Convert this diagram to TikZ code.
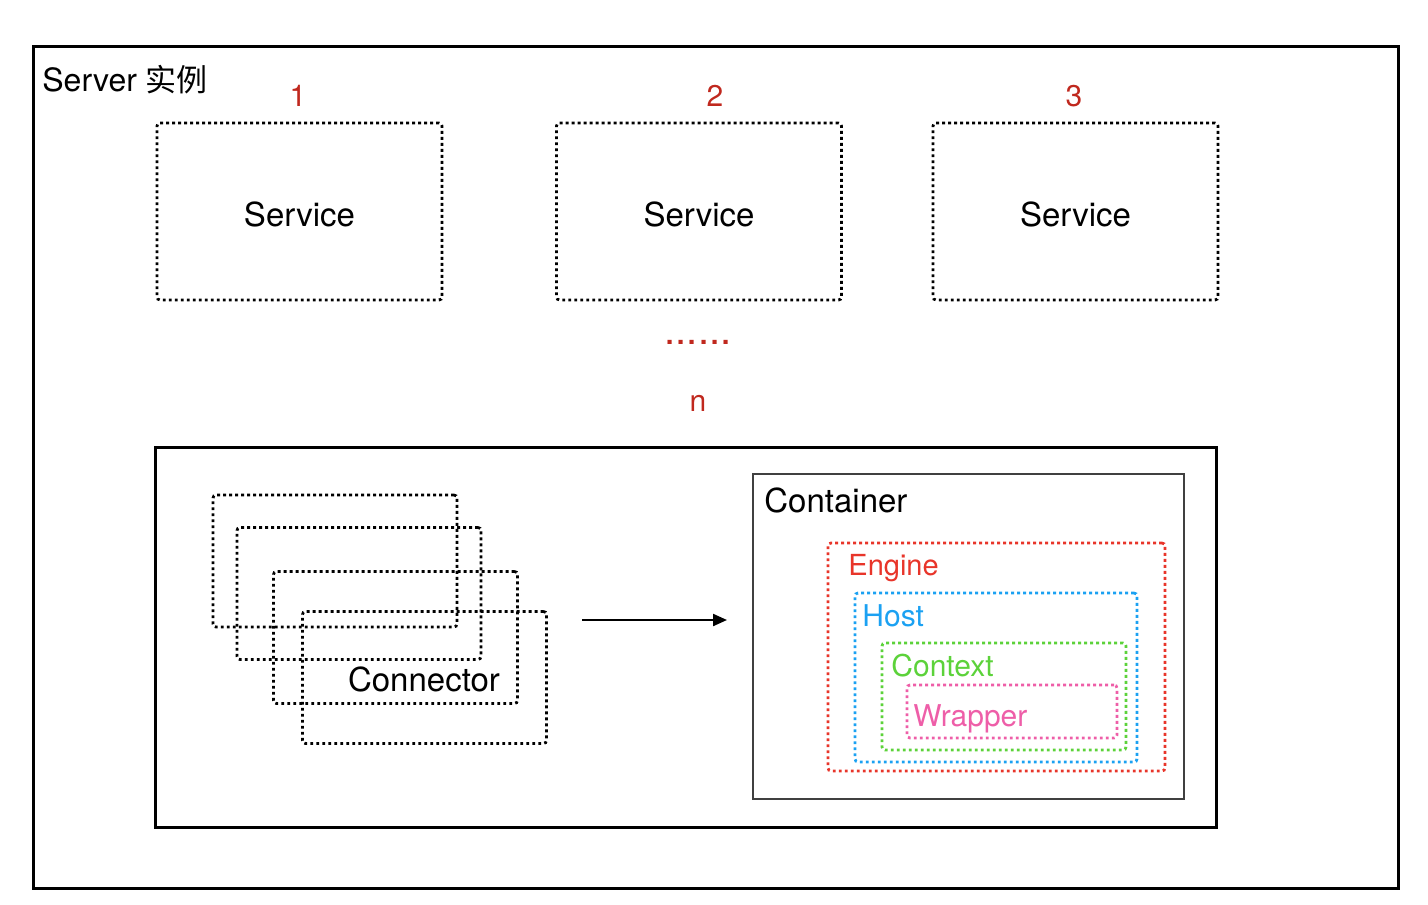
\documentclass[tikz,border=0pt]{standalone}
\usepackage{fontspec}
\setmainfont{TeX Gyre Heros}
\newfontfamily\cjk{Noto Sans CJK SC}
\usetikzlibrary{arrows.meta}
\definecolor{numred}{HTML}{C0281E}
\definecolor{enginered}{HTML}{E8352A}
\definecolor{hostblue}{HTML}{1BA1F2}
\definecolor{contextgreen}{HTML}{5CD23A}
\definecolor{wrapperpink}{HTML}{EE5EA8}
\begin{document}
\begin{tikzpicture}[x=0.5pt,y=-0.5pt,
  dotbox/.style={draw,line width=1.4pt,dash pattern=on 1.4pt off 1.6pt,rounded corners=1.5pt,inner sep=0pt},
  bigbox/.style={draw,line width=1.5pt,inner sep=0pt},
  txt/.style={font=\fontsize{16.5}{19}\selectfont,inner sep=0pt},
  subtxt/.style={font=\fontsize{15}{18}\selectfont,inner sep=0pt,anchor=west}]
  \useasboundingbox (0,0) rectangle (1428,904);
  % server
  \node[bigbox,minimum width=682.5pt,minimum height=420.5pt] (server) at (715.5,467.5) {};
  \node[txt,anchor=west,font=\fontsize{16}{19}\selectfont] (servername) at (42,80) {Server {\cjk\fontsize{15.5}{19}\selectfont 实例}};
  % services
  \foreach \i/\x/\nx in {1/299.5/298,2/699/715,3/1075.5/1074} {
    \node[dotbox,minimum width=142.5pt,minimum height=88.5pt] (service\i) at (\x,211.5) {};
    \node[txt] (servicename\i) at (\x,214) {Service};
    \node[txt,numred,font=\fontsize{15}{18}\selectfont] (num\i) at (\nx,96) {\i};
  }
  \node[numred,inner sep=0pt,anchor=base,font=\fontsize{20}{24}\selectfont] (dots) at (698,344) {......};
  \node[txt,numred,font=\fontsize{15}{18}\selectfont] (numn) at (698,403) {n};
  % service body
  \node[bigbox,minimum width=530.5pt,minimum height=190pt] (body) at (685.5,637) {};
  % connectors
  \node[dotbox,minimum width=122pt,minimum height=66pt] (conn1) at (335,561) {};
  \node[dotbox,minimum width=122pt,minimum height=66pt] (conn2) at (359,593.5) {};
  \node[dotbox,minimum width=122pt,minimum height=66pt] (conn3) at (395.5,637.5) {};
  \node[dotbox,minimum width=122pt,minimum height=66pt] (conn4) at (424.5,677.5) {};
  \node[txt] (connname) at (424,679) {Connector};
  \coordinate (arrowtail) at (582,620);
  \coordinate (arrowtip) at (727,620);
  \draw[line width=1.1pt,-{Triangle[length=7pt,width=6pt]}] (arrowtail) -- (arrowtip);
  % container
  \node[draw=black!75,line width=0.8pt,inner sep=0pt,minimum width=215.5pt,minimum height=162.5pt] (container) at (968.5,636.5) {};
  \node[txt,anchor=west] (containername) at (764,500) {Container};
  \node[dotbox,enginered,minimum width=168.5pt,minimum height=114pt] (engine) at (996.5,657) {};
  \node[subtxt,enginered,font=\fontsize{14.5}{17}\selectfont] (enginename) at (848,568) {Engine};
  \node[dotbox,hostblue,minimum width=141pt,minimum height=84.5pt] (host) at (996,677.5) {};
  \node[subtxt,hostblue] (hostname) at (862,616) {Host};
  \node[dotbox,contextgreen,minimum width=122pt,minimum height=53.5pt] (context) at (1004,696.5) {};
  \node[subtxt,contextgreen] (contextname) at (891,666) {Context};
  \node[dotbox,wrapperpink,minimum width=105pt,minimum height=26.5pt] (wrapper) at (1012,711.5) {};
  \node[subtxt,wrapperpink] (wrappername) at (913,719) {Wrapper};
\end{tikzpicture}
\end{document}
